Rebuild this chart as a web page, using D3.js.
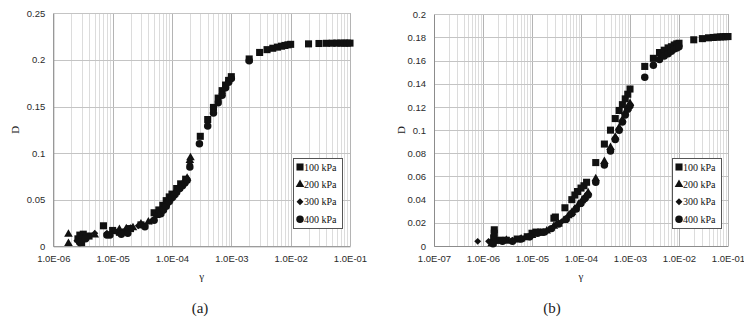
<!DOCTYPE html>
<html>
<head>
<meta charset="utf-8">
<script src="https://cdn.jsdelivr.net/npm/d3@7"></script>
<style>
  body { margin: 0; background: #fff; }
  svg { display: block; }
</style>
</head>
<body>
<svg id="chart" width="744" height="321"></svg>
<script>
// Damping ratio D versus shear strain γ, four confining pressures, two soils.
const seriesNames = ["100 kPa", "200 kPa", "300 kPa", "400 kPa"];

// Panel (a): [γ, D]
const a100 = [[2.6e-6,0.008],[2.8e-6,0.012],[3.0e-6,0.004],[3.2e-6,0.013],[4e-6,0.011],[7e-6,0.022],
  [1e-5,0.017],[1.3e-5,0.015],[2e-5,0.019],[3e-5,0.023],[5e-5,0.036],[6e-5,0.039],[7e-5,0.044],
  [8e-5,0.049],[9e-5,0.053],[1e-4,0.056],[1.2e-4,0.062],[1.4e-4,0.067],[1.7e-4,0.072],
  [3e-4,0.118],[4e-4,0.136],[5e-4,0.149],[6e-4,0.159],[7e-4,0.167],[8e-4,0.173],[9e-4,0.178],[1e-3,0.182],
  [2e-3,0.201],[3e-3,0.208],[4e-3,0.211],[5e-3,0.2125],[6e-3,0.2137],[7e-3,0.2147],[8e-3,0.2155],
  [9e-3,0.2162],[1e-2,0.2167],[2e-2,0.2172],[3e-2,0.2176],[4e-2,0.2178],[5e-2,0.2179],[6e-2,0.218],
  [7e-2,0.218],[8e-2,0.218],[9e-2,0.218],[1e-1,0.218]];
const a200 = [[1.8e-6,0.013],[1.8e-6,0.003],[3e-6,0.010],[5e-6,0.012],[1.3e-5,0.018],[1.7e-5,0.019],
  [2.2e-5,0.020],[3e-5,0.024],[4e-5,0.026],[5.5e-5,0.033],[6.5e-5,0.038],[7e-5,0.041],[8e-5,0.046],
  [9e-5,0.050],[1e-4,0.053],[1.1e-4,0.056],[1.3e-4,0.062],[1.6e-4,0.069],[1.8e-4,0.073],
  [2e-4,0.092],[2.05e-4,0.095]];
const a300 = [[2.5e-6,0.006],[3e-6,0.009],[4e-6,0.011],[5e-6,0.014],[8e-6,0.014],[1.1e-5,0.016],
  [1.5e-5,0.016],[2e-5,0.020],[2.7e-5,0.022],[3.5e-5,0.022],[4.5e-5,0.027],[6e-5,0.037],
  [6.8e-5,0.041],[7.5e-5,0.044],[8.2e-5,0.047],[9e-5,0.050],[1e-4,0.054],[1.1e-4,0.057],
  [1.2e-4,0.060],[1.3e-4,0.063],[1.5e-4,0.067],[1.65e-4,0.070],[1.8e-4,0.072],[2e-4,0.088]];
const a400 = [[2.8e-6,0.004],[3.5e-6,0.008],[8e-6,0.012],[9e-6,0.012],[1.4e-5,0.013],[1.8e-5,0.014],
  [3.5e-5,0.021],[5e-5,0.028],[6.5e-5,0.035],[7.2e-5,0.039],[8e-5,0.043],[9e-5,0.048],[1e-4,0.052],
  [1.1e-4,0.055],[1.2e-4,0.058],[1.35e-4,0.062],[1.5e-4,0.065],[1.65e-4,0.068],[1.8e-4,0.071],
  [2e-4,0.085],[2.9e-4,0.110],[4e-4,0.129],[5e-4,0.143],[6e-4,0.154],[7e-4,0.162],[8e-4,0.170],
  [9e-4,0.176],[1e-3,0.180],[2e-3,0.199]];

// Panel (b): [γ, D]
const b100 = [[1.6e-6,0.003],[1.65e-6,0.007],[1.7e-6,0.011],[1.7e-6,0.014],[2.2e-6,0.005],[3e-6,0.005],
  [5e-6,0.006],[8e-6,0.008],[1e-5,0.011],[1.2e-5,0.012],[1.5e-5,0.012],[2.8e-5,0.024],[3e-5,0.025],
  [4.7e-5,0.033],[6.5e-5,0.040],[7.5e-5,0.044],[8.5e-5,0.047],[1e-4,0.050],[1.15e-4,0.052],
  [1.3e-4,0.055],[2e-4,0.072],[3e-4,0.088],[4e-4,0.100],[5e-4,0.110],[6e-4,0.117],[7e-4,0.122],
  [8e-4,0.127],[9e-4,0.131],[1e-3,0.1355],[2e-3,0.155],[3e-3,0.162],[4e-3,0.167],[5e-3,0.169],
  [6e-3,0.171],[7e-3,0.172],[8e-3,0.1735],[9e-3,0.1745],[1e-2,0.175],[2e-2,0.178],[3e-2,0.179],
  [4e-2,0.1797],[5e-2,0.180],[6e-2,0.1803],[7e-2,0.1805],[8e-2,0.1806],[9e-2,0.1807],[1e-1,0.1808]];
const b200 = [[1.5e-6,0.002],[2e-6,0.004],[3e-6,0.005],[6e-6,0.006],[1e-5,0.009],[1.5e-5,0.011],
  [2e-5,0.013],[2.8e-5,0.017],[3.5e-5,0.019],[4.5e-5,0.022],[5.5e-5,0.026],[6.5e-5,0.029],
  [7.5e-5,0.032],[9e-5,0.036],[1.05e-4,0.039],[1.2e-4,0.042],[1.4e-4,0.046],[2e-4,0.058],
  [3e-4,0.073],[4e-4,0.085],[5e-4,0.094],[6e-4,0.102],[7e-4,0.109],[8e-4,0.115],[9e-4,0.119],[1e-3,0.123]];
const b300 = [[7.8e-7,0.004],[1.3e-6,0.004],[1.8e-6,0.004],[2.5e-6,0.005],[4e-6,0.005],[7e-6,0.007],
  [1.1e-5,0.010],[1.6e-5,0.012],[2.2e-5,0.014],[3e-5,0.018],[4e-5,0.021],[5e-5,0.024],[6e-5,0.027],
  [7e-5,0.030],[8.5e-5,0.034],[1e-4,0.038],[1.2e-4,0.042],[1.4e-4,0.045],[2e-4,0.056],[3e-4,0.071],
  [4e-4,0.083],[5e-4,0.093],[6e-4,0.101],[7e-4,0.108],[8e-4,0.114],[9e-4,0.118],[1e-3,0.122]];
const b400 = [[1.6e-6,0.002],[2.5e-6,0.004],[4e-6,0.004],[6e-6,0.006],[9e-6,0.008],[1.3e-5,0.011],
  [1.8e-5,0.012],[2.5e-5,0.015],[3.5e-5,0.019],[5e-5,0.023],[6.5e-5,0.028],[8e-5,0.032],[1e-4,0.037],
  [1.2e-4,0.041],[1.4e-4,0.044],[2e-4,0.055],[3e-4,0.070],[4e-4,0.082],[5e-4,0.092],[6e-4,0.100],
  [7e-4,0.107],[8e-4,0.113],[9e-4,0.118],[1e-3,0.121],[2e-3,0.1456],[3e-3,0.156],[4e-3,0.161],
  [5e-3,0.164],[6e-3,0.166],[7e-3,0.168],[8e-3,0.170],[9e-3,0.171],[1e-2,0.172]];

// Axis ticks
const aYTicks = [0, 0.05, 0.1, 0.15, 0.2, 0.25];
const bYTicks = [0, 0.02, 0.04, 0.06, 0.08, 0.1, 0.12, 0.14, 0.16, 0.18, 0.2];
const aXTicks = ["1.0E-06","1.0E-05","1.0E-04","1.0E-03","1.0E-02","1.0E-01"];
const bXTicks = ["1.0E-07","1.0E-06","1.0E-05","1.0E-04","1.0E-03","1.0E-02","1.0E-01"];

// marker shapes: square, triangle, diamond (rotated square), circle
const markerDefs = [
  { type: d3.symbolSquare, size: 50, rot: 0 },
  { type: d3.symbolTriangle, size: 32, rot: 0 },
  { type: d3.symbolSquare, size: 24, rot: 45 },
  { type: d3.symbolCircle, size: 44, rot: 0 }
];

const svg = d3.select("#chart");

function drawPanel(p) {
  const x = d3.scaleLog().domain([+p.xTicks[0], +p.xTicks[p.xTicks.length - 1]]).range([p.left, p.right]);
  const y = d3.scaleLinear().domain([0, p.yMax]).range([p.bottom, p.top]);
  const g = svg.append("g");

  // minor vertical grid
  const [lo, hi] = x.domain();
  const minor = [];
  for (let e = Math.round(Math.log10(lo)); e < Math.round(Math.log10(hi)); e++) {
    for (let k = 2; k <= 9; k++) minor.push(k * Math.pow(10, e));
  }
  g.selectAll(".minor").data(minor).join("line")
    .attr("x1", d => Math.round(x(d)) + 0.5).attr("x2", d => Math.round(x(d)) + 0.5)
    .attr("y1", p.top).attr("y2", p.bottom)
    .attr("stroke", "#dcdcdc").attr("stroke-width", 1);

  // major vertical grid
  g.selectAll(".vmaj").data(p.xTicks.map(Number)).join("line")
    .attr("x1", d => Math.round(x(d)) + 0.5).attr("x2", d => Math.round(x(d)) + 0.5)
    .attr("y1", p.top).attr("y2", p.bottom)
    .attr("stroke", "#b4b4b4").attr("stroke-width", 1);

  // horizontal grid
  g.selectAll(".hmaj").data(p.yTicks).join("line")
    .attr("x1", p.left).attr("x2", p.right)
    .attr("y1", d => Math.round(y(d)) + 0.5).attr("y2", d => Math.round(y(d)) + 0.5)
    .attr("stroke", "#c4c4c4").attr("stroke-width", 1);

  // axes
  const xAxis = d3.axisBottom(x).tickValues(p.xTicks.map(Number))
    .tickFormat((d, i) => p.xTicks[i]).tickSize(0).tickPadding(9);
  const gx = g.append("g").attr("transform", `translate(0,${p.bottom})`).call(xAxis);
  gx.select(".domain").attr("stroke", "#8c8c8c");
  gx.selectAll("text").attr("font-family", "Liberation Sans, Arial, sans-serif")
    .attr("font-size", 9.5).attr("fill", "#2a2a2a");

  const yAxis = d3.axisLeft(y).tickValues(p.yTicks).tickFormat(d3.format("")).tickSize(0).tickPadding(8);
  const gy = g.append("g").attr("transform", `translate(${p.left},0)`).call(yAxis);
  gy.select(".domain").attr("stroke", "#8c8c8c");
  gy.selectAll("text").attr("font-family", "Liberation Sans, Arial, sans-serif")
    .attr("font-size", 9.5).attr("fill", "#2a2a2a");

  // right border
  g.append("line").attr("x1", p.right + 0.5).attr("x2", p.right + 0.5)
    .attr("y1", p.top).attr("y2", p.bottom).attr("stroke", "#b4b4b4");

  // series markers
  p.series.forEach((data, si) => {
    const m = markerDefs[si];
    g.append("g").selectAll("path").data(data).join("path")
      .attr("transform", d => `translate(${x(d[0])},${y(d[1])}) rotate(${m.rot})`)
      .attr("d", d3.symbol().type(m.type).size(m.size))
      .attr("fill", "#111");
  });

  // legend
  const lg = g.append("g");
  lg.append("rect").attr("x", p.legX + 0.5).attr("y", 158.5).attr("width", 49).attr("height", 70)
    .attr("fill", "#fff").attr("stroke", "#555").attr("stroke-width", 1);
  seriesNames.forEach((name, i) => {
    const cy = 167 + i * 17.4;
    const m = markerDefs[i];
    lg.append("path").attr("transform", `translate(${p.legX + 7},${cy}) rotate(${m.rot})`)
      .attr("d", d3.symbol().type(m.type).size(m.size))
      .attr("fill", "#111");
    lg.append("text").attr("x", p.legX + 11).attr("y", cy + 3.5)
      .attr("font-family", "Liberation Serif, Times New Roman, serif").attr("font-size", 10)
      .attr("fill", "#111").text(name);
  });

  // axis titles
  g.append("text").attr("transform", `translate(${p.dX},${(p.top + p.bottom) / 2}) rotate(-90)`)
    .attr("text-anchor", "middle").attr("font-family", "Liberation Serif, Times New Roman, serif")
    .attr("font-size", 11).attr("fill", "#222").text("D");
  g.append("text").attr("x", (p.left + p.right) / 2).attr("y", 280)
    .attr("text-anchor", "middle").attr("font-family", "Liberation Serif, Times New Roman, serif")
    .attr("font-size", 11).attr("fill", "#222").text("γ");

  g.append("text").attr("x", p.capX).attr("y", 313)
    .attr("text-anchor", "middle").attr("font-family", "Liberation Serif, Times New Roman, serif")
    .attr("font-size", 15).attr("fill", "#222").text(p.caption);
}

drawPanel({
  left: 53.3, right: 350, top: 13.3, bottom: 246.3, yMax: 0.25,
  xTicks: aXTicks, yTicks: aYTicks, series: [a100, a200, a300, a400],
  legX: 293, dX: 19, capX: 200, caption: "(a)"
});
drawPanel({
  left: 434, right: 728, top: 14.3, bottom: 246, yMax: 0.2,
  xTicks: bXTicks, yTicks: bYTicks, series: [b100, b200, b300, b400],
  legX: 672, dX: 405, capX: 552, caption: "(b)"
});
</script>
</body>
</html>
